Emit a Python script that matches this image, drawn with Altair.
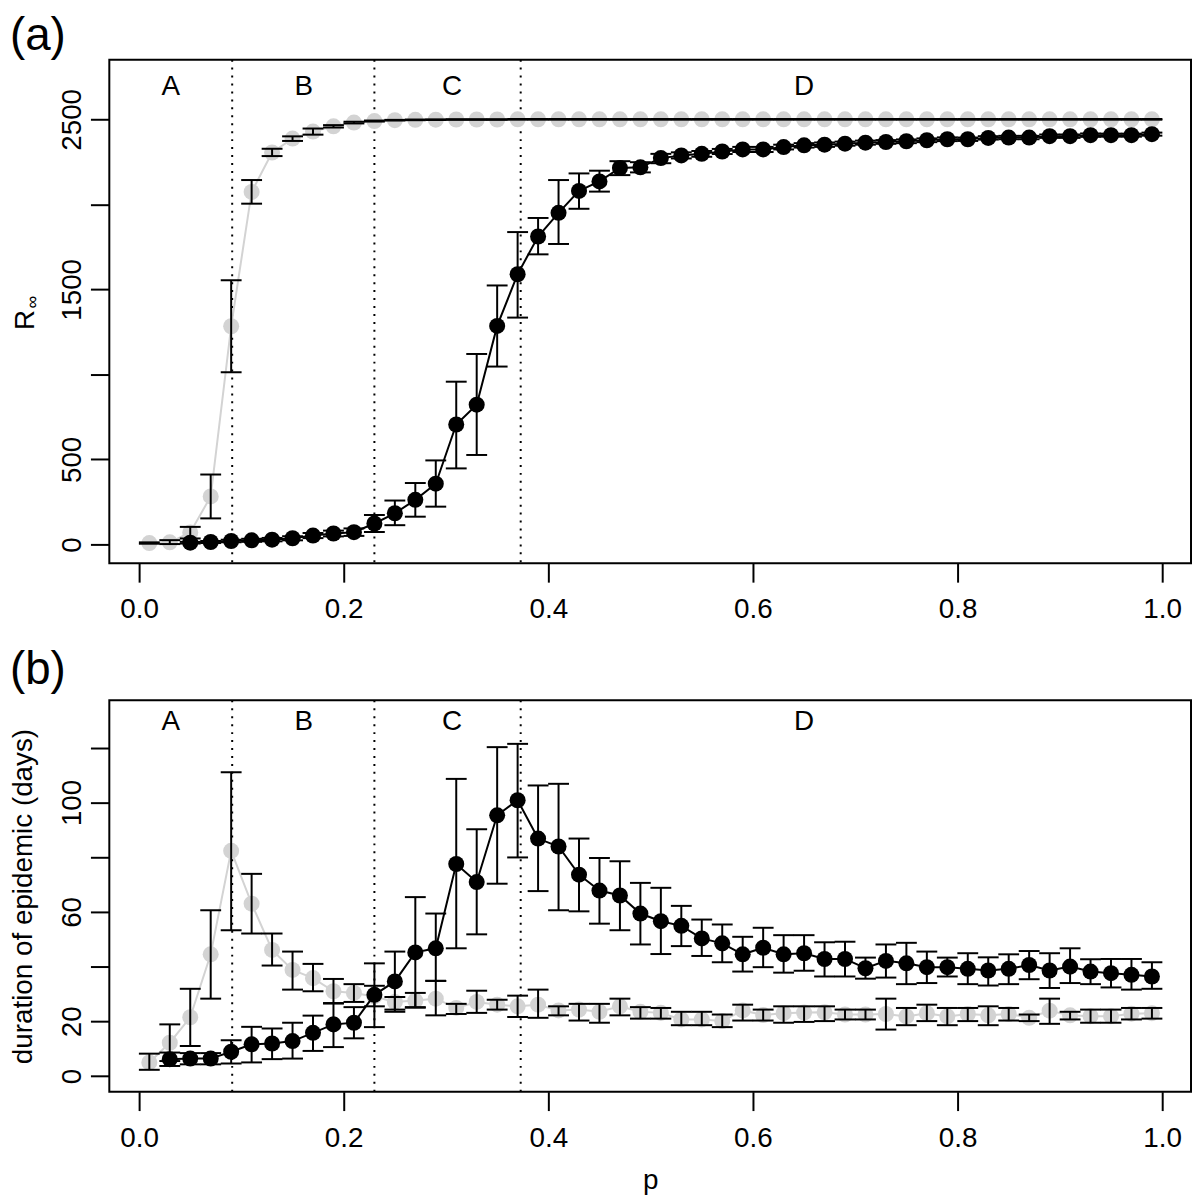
import altair as alt
import pandas as pd

FONT = "Liberation Sans"

p_all = [0.01, 0.03, 0.05, 0.07, 0.09, 0.11, 0.13, 0.15, 0.17, 0.19,
         0.21, 0.23, 0.25, 0.27, 0.29, 0.31, 0.33, 0.35, 0.37, 0.39,
         0.41, 0.43, 0.45, 0.47, 0.49, 0.51, 0.53, 0.55, 0.57, 0.59,
         0.61, 0.63, 0.65, 0.67, 0.69, 0.71, 0.73, 0.75, 0.77, 0.79,
         0.81, 0.83, 0.85, 0.87, 0.89, 0.91, 0.93, 0.95, 0.97, 0.99]

# ---------- panel (a): R_inf ----------
a_gray = [8, 12, 70, 282, 1283, 2073, 2305, 2387, 2428, 2459,
          2481, 2490, 2495, 2497, 2498, 2499, 2499, 2499, 2500, 2500,
          2500, 2500, 2500, 2500, 2500, 2500, 2500, 2500, 2500, 2500,
          2500, 2500, 2500, 2500, 2500, 2500, 2500, 2500, 2500, 2500,
          2500, 2500, 2500, 2500, 2500, 2500, 2500, 2500, 2500, 2500]
a_gray_lo = [4, 2, 35, 153, 1013, 2004, 2284, 2373, 2410, 2452,
             2476, 2487, 2493, 2495, 2496, 2497, 2497, 2497, 2498, 2498,
             2498, 2498, 2498, 2498, 2498, 2498, 2498, 2498, 2498, 2498,
             2498, 2498, 2498, 2498, 2498, 2498, 2498, 2498, 2498, 2498,
             2498, 2498, 2498, 2498, 2498, 2498, 2498, 2498, 2498, 2498]
a_gray_hi = [12, 25, 103, 411, 1553, 2143, 2327, 2400, 2446, 2466,
             2486, 2493, 2497, 2499, 2500, 2501, 2501, 2501, 2502, 2502,
             2502, 2502, 2502, 2502, 2502, 2502, 2502, 2502, 2502, 2502,
             2502, 2502, 2502, 2502, 2502, 2502, 2502, 2502, 2502, 2502,
             2502, 2502, 2502, 2502, 2502, 2502, 2502, 2502, 2502, 2502]

a_black_p = p_all[2:]
a_black = [10, 14, 20, 24, 28, 36, 52, 64, 72, 123,
           183, 262, 357, 705, 822, 1285, 1589, 1811, 1950, 2079,
           2135, 2214, 2218, 2272, 2288, 2297, 2311, 2323, 2323, 2337,
           2347, 2351, 2357, 2363, 2367, 2371, 2377, 2383, 2383, 2391,
           2393, 2393, 2401, 2401, 2407, 2407, 2407, 2413]
a_black_lo = [5, 8, 12, 15, 18, 24, 37, 47, 50, 73,
              113, 163, 222, 447, 526, 1046, 1334, 1706, 1767, 1974,
              2075, 2172, 2188, 2242, 2270, 2280, 2296, 2308, 2308, 2323,
              2334, 2338, 2345, 2351, 2356, 2360, 2366, 2372, 2373, 2381,
              2383, 2383, 2391, 2391, 2397, 2398, 2398, 2404]
a_black_hi = [15, 20, 28, 33, 38, 48, 67, 81, 94, 173,
              258, 361, 494, 957, 1120, 1523, 1837, 1920, 2143, 2182,
              2198, 2254, 2248, 2297, 2306, 2314, 2326, 2338, 2338, 2351,
              2360, 2364, 2369, 2375, 2378, 2382, 2388, 2394, 2393, 2401,
              2403, 2403, 2411, 2411, 2417, 2416, 2416, 2422]

# ---------- panel (b): duration ----------
b_gray = [5.0, 12.2, 21.5, 44.5, 82.3, 63.0, 46.1, 38.8, 35.8, 31.0,
          30.4, 29.1, 27.1, 27.6, 28.3, 24.9, 27.1, 26.1, 25.5, 26.1,
          24.0, 24.3, 23.5, 25.5, 23.5, 23.1, 20.7, 20.7, 20.1, 24.0,
          22.3, 23.0, 23.2, 23.3, 22.5, 22.5, 22.7, 21.8, 23.0, 21.8,
          22.7, 22.2, 22.7, 21.3, 23.9, 22.2, 21.9, 21.9, 22.8, 23.0]
b_gray_lo = [2.3, 5.5, 11.0, 28.3, 53.3, 52.1, 40.4, 31.6, 31.0, 26.5,
             27.1, 25.5, 23.5, 25.0, 22.2, 22.7, 23.1, 24.3, 21.6, 21.3,
             22.2, 20.3, 19.5, 22.2, 21.0, 21.0, 18.6, 18.6, 17.9, 20.3,
             20.3, 19.5, 19.8, 20.1, 20.7, 20.7, 17.0, 18.6, 20.1, 18.6,
             20.1, 18.6, 20.3, 20.1, 19.1, 20.7, 19.5, 19.5, 20.7, 21.0]
b_gray_hi = [8.2, 18.9, 31.9, 60.6, 111.0, 73.9, 52.1, 45.5, 41.0, 35.5,
             33.6, 33.0, 28.9, 30.4, 34.8, 26.4, 31.2, 27.9, 29.4, 31.6,
             25.5, 26.4, 26.4, 28.3, 25.2, 24.9, 23.5, 23.5, 22.5, 26.1,
             24.3, 25.5, 25.5, 25.5, 24.3, 24.3, 28.3, 24.9, 26.1, 24.9,
             24.9, 25.5, 24.9, 22.5, 28.3, 23.5, 24.3, 24.3, 24.9, 24.9]

b_black_p = p_all[1:]
b_black = [6.2, 6.4, 6.4, 8.9, 11.6, 11.9, 12.8, 15.8, 18.9, 19.5,
           29.7, 34.6, 45.2, 46.7, 77.5, 70.9, 95.3, 100.8, 86.8,
           83.9, 73.6, 67.8, 66.0, 59.4, 56.6, 54.9, 50.3, 48.5, 44.5,
           46.9, 44.5, 44.9, 42.8, 42.8, 39.4, 42.1, 41.2, 39.8, 39.8,
           39.2, 38.6, 39.2, 40.6, 38.6, 40.0, 38.2, 37.6, 37.0, 36.4]
b_black_lo = [3.7, 4.3, 4.3, 4.6, 5.0, 6.2, 6.4, 9.2, 10.6, 13.8,
              17.9, 24.3, 25.2, 34.8, 46.7, 51.8, 70.3, 79.9, 67.6,
              60.6, 60.2, 55.7, 53.3, 48.1, 44.6, 47.5, 43.9, 41.6, 38.2,
              39.8, 37.8, 38.5, 36.4, 36.4, 35.6, 36.0, 33.6, 34.0, 36.4,
              33.6, 33.1, 33.6, 35.4, 32.2, 34.0, 33.6, 32.4, 31.6, 31.9]
b_black_hi = [8.6, 8.4, 8.4, 13.1, 18.0, 17.4, 19.5, 22.1, 26.7, 25.2,
              41.2, 45.5, 65.4, 59.4, 108.6, 90.2, 120.2, 121.4, 106.2,
              106.8, 86.8, 79.7, 78.5, 70.6, 68.8, 62.2, 57.2, 55.4, 50.9,
              54.2, 51.5, 51.5, 48.9, 49.1, 43.3, 48.1, 48.7, 45.5, 43.3,
              44.9, 43.4, 44.5, 45.7, 44.9, 46.7, 42.7, 42.8, 42.8, 41.6]

# ---------- annotations ----------
phase_bounds = [0.091, 0.23, 0.373]
phase_letters = ["A", "B", "C", "D"]
phase_label_x = [0.031, 0.161, 0.306, 0.650]
x_ticks = [0.0, 0.2, 0.4, 0.6, 0.8, 1.0]

a_y_ticks = [0, 500, 1000, 1500, 2000, 2500]
a_y_labels = [0, 500, 1500, 2500]
b_y_ticks = [0, 20, 40, 60, 80, 100, 120]
b_y_labels = [0, 20, 60, 100]

GRAY = "#d3d3d3"
W = 1089
PT = 260
CAP = 21


def panel(gp, gv, glo, ghi, bp, bv, blo, bhi, ydom, yticks, ylabels,
          ytitle, tag, letter_y, height, xtitle, title_x, extra=None):
    gdf = pd.DataFrame({"p": gp, "v": gv, "lo": glo, "hi": ghi})
    bdf = pd.DataFrame({"p": bp, "v": bv, "lo": blo, "hi": bhi})
    edf = pd.concat([gdf, bdf], ignore_index=True)

    label_expr = " || ".join(f"datum.value == {v}" for v in ylabels)
    ykw = dict(values=yticks, format="d",
               labelExpr=f"({label_expr}) ? datum.label : ''",
               labelAngle=270, labelAlign="center", labelBaseline="alphabetic",
               labelPadding=10, labelFlush=False, labelOverlap=False)
    if ytitle:
        yaxis = alt.Axis(title=ytitle, titleAngle=270, titleX=title_x,
                         titleY=height / 2, titleAlign="center",
                         titleBaseline="middle", **ykw)
    else:
        yaxis = alt.Axis(title=None, **ykw)
    xkw = dict(values=x_ticks, format=".1f", labelPadding=14, labelFlush=False,
               labelOverlap=False)
    if xtitle:
        xaxis = alt.Axis(title=xtitle, titleY=97, titleBaseline="alphabetic", **xkw)
    else:
        xaxis = alt.Axis(title=None, **xkw)

    xs = alt.Scale(domain=[-0.0291, 1.0282], nice=False, zero=False)
    ys = alt.Scale(domain=ydom, nice=False, zero=False)
    X = alt.X("p:Q", scale=xs, axis=xaxis)
    Y = alt.Y("v:Q", scale=ys, axis=yaxis)
    Ylo = alt.Y("lo:Q", scale=ys, axis=yaxis)
    Yhi = alt.Y("hi:Q", scale=ys, axis=yaxis)

    gline = alt.Chart(gdf).mark_line(color=GRAY, strokeWidth=2).encode(x=X, y=Y)
    gpts = alt.Chart(gdf).mark_circle(color=GRAY, opacity=1, size=PT).encode(x=X, y=Y)
    bline = alt.Chart(bdf).mark_line(color="black", strokeWidth=2).encode(x=X, y=Y)
    bpts = alt.Chart(bdf).mark_circle(color="black", opacity=1, size=PT).encode(x=X, y=Y)
    erule = alt.Chart(edf).mark_rule(color="black", strokeWidth=2).encode(
        x=X, y=Ylo, y2="hi:Q")
    ecap_lo = alt.Chart(edf).mark_tick(color="black", orient="horizontal", size=CAP,
                                       thickness=2, opacity=1).encode(x=X, y=Ylo)
    ecap_hi = alt.Chart(edf).mark_tick(color="black", orient="horizontal", size=CAP,
                                       thickness=2, opacity=1).encode(x=X, y=Yhi)

    vlines = alt.Chart(pd.DataFrame({"p": phase_bounds})).mark_rule(
        color="black", strokeWidth=2, strokeDash=[2, 6]).encode(x=X)
    letters = alt.Chart(pd.DataFrame({"p": phase_label_x, "t": phase_letters,
                                      "v": [letter_y] * 4})).mark_text(
        font=FONT, fontSize=28, color="black").encode(x=X, y=Y, text="t:N")
    tagt = alt.Chart(pd.DataFrame({"t": [tag]})).mark_text(
        font=FONT, fontSize=46, color="black", align="left", baseline="middle").encode(
        x=alt.value(-100), y=alt.value(-24 if tag == "(a)" else -30), text="t:N")

    layers = [vlines, gline, gpts, bline, bpts, erule, ecap_lo, ecap_hi, letters, tagt]
    if extra:
        layers += extra
    return alt.layer(*layers).properties(width=W, height=height)


# R with a subscript infinity, as the y title of panel (a)
r_main = alt.Chart(pd.DataFrame({"t": ["R"]})).mark_text(
    font=FONT, fontSize=28, color="black", angle=270, align="center",
    baseline="middle").encode(x=alt.value(-84), y=alt.value(262), text="t:N")
r_sub = alt.Chart(pd.DataFrame({"t": ["\u221e"]})).mark_text(
    font=FONT, fontSize=18, color="black", angle=270, align="center",
    baseline="middle").encode(x=alt.value(-77), y=alt.value(244), text="t:N")

top = panel(p_all, a_gray, a_gray_lo, a_gray_hi, a_black_p, a_black, a_black_lo,
            a_black_hi, [-111, 2851], a_y_ticks, a_y_labels, None, "(a)", 2690,
            507, None, -83, extra=[r_main, r_sub])
bottom = panel(p_all, b_gray, b_gray_lo, b_gray_hi, b_black_p, b_black, b_black_lo,
               b_black_hi, [-5.7, 137.3], b_y_ticks, b_y_labels,
               "duration of epidemic (days)", "(b)", 129.5, 394, "p", -86)

chart = alt.vconcat(top, bottom, spacing=22).properties(padding=0).configure_view(
    stroke="black", strokeWidth=2).configure_axis(
    domain=False, grid=False, tickColor="black", tickWidth=2, tickSize=19,
    labelFont=FONT, labelFontSize=28, labelColor="black",
    titleFont=FONT, titleFontSize=28, titleColor="black", titleFontWeight="normal")

chart.save("out.html", embed_options={"renderer": "svg", "actions": False})
